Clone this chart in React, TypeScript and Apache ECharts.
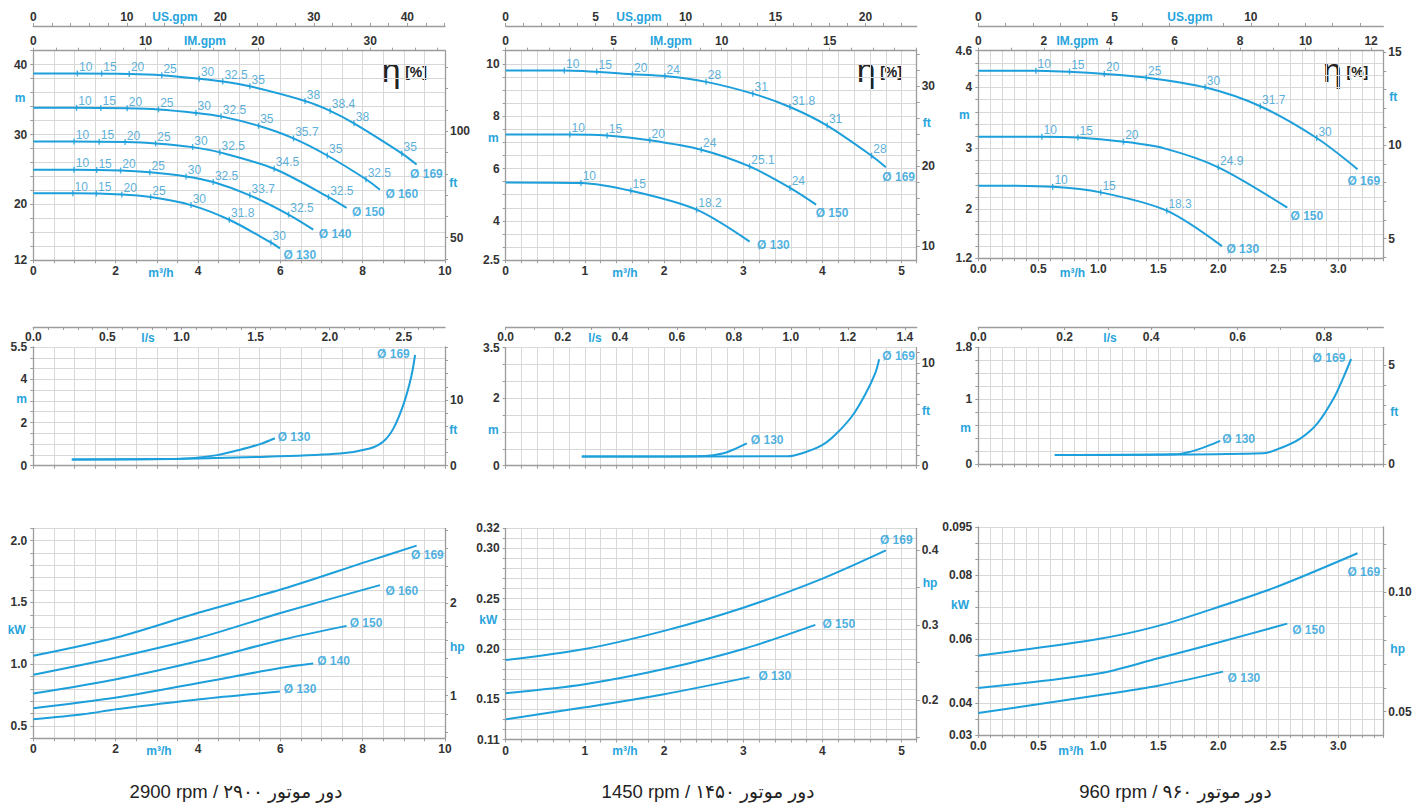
import React, { useEffect, useRef } from "react";
import * as echarts from "echarts";

// ---------------- unit factors ----------------
const M3H_TO_USGPM = 4.40287;
const M3H_TO_IMGPM = 3.66615;
const M3H_TO_LS = 1 / 3.6;
const M_TO_FT = 3.28084;
const KW_TO_HP = 1 / 0.7457;

// ---------------- tick labels ----------------
const X_LABELS_2900 = [0, 2, 4, 6, 8, 10];
const X_LABELS_1450 = [0, 1, 2, 3, 4, 5];
const X_LABELS_960 = [0, 0.5, 1, 1.5, 2, 2.5, 3];
const US_LABELS_2900 = [0, 10, 20, 30, 40];
const IM_LABELS_2900 = [0, 10, 20, 30];
const US_LABELS_1450 = [0, 5, 10, 15, 20];
const IM_LABELS_1450 = [0, 5, 10, 15];
const US_LABELS_960 = [0, 5, 10];
const IM_LABELS_960 = [0, 2, 4, 6, 8, 10, 12];
const H_LABELS_2900 = [12, 20, 30, 40];
const H_LABELS_1450 = [2.5, 4, 6, 8, 10];
const H_LABELS_960 = [1.2, 2, 3, 4, 4.6];
const FT_LABELS_2900 = [50, 100];
const FT_LABELS_1450 = [10, 20, 30];
const FT_LABELS_960 = [5, 10, 15];
const LS_LABELS_2900 = [0, 0.5, 1, 1.5, 2, 2.5];
const LS_LABELS_1450 = [0, 0.2, 0.4, 0.6, 0.8, 1, 1.2, 1.4];
const LS_LABELS_960 = [0, 0.2, 0.4, 0.6, 0.8];
const NPSH_LABELS_2900 = [0, 2, 4, 5.5];
const NPSH_LABELS_1450 = [0, 2, 3.5];
const NPSH_LABELS_960 = [0, 1, 1.8];
const NPSH_FT_2900 = [0, 10];
const NPSH_FT_1450 = [0, 10];
const NPSH_FT_960 = [0, 5];
const P_LABELS_2900 = [0.5, 1, 1.5, 2];
const P_LABELS_1450 = [0.11, 0.15, 0.2, 0.25, 0.3, 0.32];
const P_LABELS_960 = [0.03, 0.04, 0.06, 0.08, 0.095];
const HP_LABELS_2900 = [1, 2];
const HP_LABELS_1450 = [0.2, 0.3, 0.4];
const HP_LABELS_960 = [0.05, 0.1];

// ---------------- head curves [Q m³/h, H m] ----------------
const H2900_169 = [[0, 38.75], [1.07, 38.75], [2.33, 38.68], [3.12, 38.5], [4.03, 38.0], [4.6, 37.6], [5.26, 36.9], [6.6, 34.8], [7.21, 33.4], [7.79, 31.6], [8.95, 27.3], [9.31, 25.7]];
const H2900_160 = [[0, 33.85], [1.05, 33.82], [2.28, 33.75], [3.04, 33.6], [3.95, 33.1], [4.56, 32.6], [5.47, 31.25], [6.32, 29.45], [7.14, 27.0], [8.08, 23.6], [8.42, 22.1]];
const H2900_150 = [[0, 29.0], [0.99, 29.0], [2.23, 28.92], [2.97, 28.73], [3.87, 28.2], [4.53, 27.45], [5.85, 25.1], [7.17, 21.05], [7.61, 19.5]];
const H2900_140 = [[0, 24.95], [0.99, 24.95], [2.12, 24.85], [2.83, 24.6], [3.71, 24.0], [4.37, 23.2], [5.26, 21.3], [6.2, 18.55], [6.8, 16.4]];
const H2900_130 = [[0, 21.6], [0.96, 21.6], [2.15, 21.43], [2.85, 21.05], [3.83, 19.9], [4.76, 17.8], [5.77, 14.55], [5.99, 13.7]];
const H1450_169 = [[0, 9.745], [0.74, 9.745], [1.6, 9.6], [2.01, 9.53], [2.53, 9.31], [3.12, 8.86], [3.59, 8.35], [4.06, 7.64], [4.62, 6.49], [4.8, 6.05]];
const H1450_150 = [[0, 7.3], [0.81, 7.3], [1.28, 7.26], [1.82, 7.08], [2.47, 6.72], [3.08, 6.08], [3.59, 5.26], [3.92, 4.62]];
const H1450_130 = [[0, 5.47], [0.95, 5.45], [1.58, 5.15], [2.41, 4.43], [3.08, 3.21]];
const H960_169 = [[0, 4.27], [0.48, 4.27], [1.05, 4.22], [1.4, 4.16], [1.89, 4.0], [2.35, 3.69], [2.82, 3.17], [3.16, 2.66]];
const H960_150 = [[0, 3.19], [0.53, 3.19], [0.83, 3.18], [1.21, 3.11], [1.55, 3.0], [2.0, 2.69], [2.575, 2.03]];
const H960_130 = [[0, 2.39], [0.62, 2.37], [1.02, 2.28], [1.57, 1.98], [2.03, 1.4]];

// ---------------- efficiency marks [Q, H, η %] ----------------
const E2900_169 = [[1.07, 38.75, 10], [1.66, 38.72, 15], [2.33, 38.68, 20], [3.12, 38.5, 25], [4.03, 38.0, 30], [4.6, 37.6, 32.5], [5.26, 36.9, 35], [6.6, 34.8, 38], [7.21, 33.4, 38.4], [7.79, 31.6, 38], [8.95, 27.3, 35]];
const E2900_160 = [[1.05, 33.82, 10], [1.64, 33.8, 15], [2.28, 33.75, 20], [3.04, 33.6, 25], [3.95, 33.1, 30], [4.56, 32.6, 32.5], [5.47, 31.25, 35], [6.32, 29.45, 35.7], [7.14, 27.0, 35], [8.08, 23.6, 32.5]];
const E2900_150 = [[0.99, 29.0, 10], [1.6, 28.97, 15], [2.23, 28.92, 20], [2.97, 28.73, 25], [3.87, 28.2, 30], [4.53, 27.45, 32.5], [5.85, 25.1, 34.5], [7.17, 21.05, 32.5]];
const E2900_140 = [[0.99, 24.95, 10], [1.54, 24.92, 15], [2.12, 24.85, 20], [2.83, 24.6, 25], [3.71, 24.0, 30], [4.37, 23.2, 32.5], [5.26, 21.3, 33.7], [6.2, 18.55, 32.5]];
const E2900_130 = [[0.96, 21.6, 10], [1.53, 21.55, 15], [2.15, 21.43, 20], [2.85, 21.05, 25], [3.83, 19.9, 30], [4.76, 17.8, 31.8], [5.77, 14.55, 30]];
const E1450_169 = [[0.74, 9.745, 10], [1.15, 9.71, 15], [1.6, 9.6, 20], [2.01, 9.53, 24], [2.53, 9.31, 28], [3.12, 8.86, 31], [3.59, 8.35, 31.8], [4.06, 7.64, 31], [4.62, 6.49, 28]];
const E1450_150 = [[0.81, 7.3, 10], [1.28, 7.26, 15], [1.82, 7.08, 20], [2.47, 6.72, 24], [3.08, 6.08, 25.1], [3.59, 5.26, 24]];
const E1450_130 = [[0.95, 5.45, 10], [1.58, 5.15, 15], [2.41, 4.43, 18.2]];
const E960_169 = [[0.48, 4.27, 10], [0.76, 4.26, 15], [1.05, 4.22, 20], [1.4, 4.16, 25], [1.89, 4.0, 30], [2.35, 3.69, 31.7], [2.82, 3.17, 30]];
const E960_150 = [[0.53, 3.19, 10], [0.83, 3.18, 15], [1.21, 3.11, 20], [2.0, 2.69, 24.9]];
const E960_130 = [[0.62, 2.37, 10], [1.02, 2.28, 15], [1.57, 1.98, 18.3]];

// ---------------- NPSH curves [q l/s, m] ----------------
const N2900_169 = [[0.26, 0.29], [1.0, 0.32], [1.575, 0.42], [2.07, 0.57], [2.27, 0.8], [2.36, 1.11], [2.43, 1.73], [2.5, 2.89], [2.55, 4.12], [2.576, 5.13]];
const N2900_130 = [[0.26, 0.29], [1.0, 0.32], [1.24, 0.49], [1.39, 0.73], [1.53, 1.0], [1.63, 1.27]];
const N1450_169 = [[0.267, 0.27], [0.99, 0.28], [1.04, 0.37], [1.11, 0.61], [1.155, 0.91], [1.214, 1.46], [1.26, 2.1], [1.296, 2.74], [1.31, 3.16]];
const N1450_130 = [[0.267, 0.27], [0.7, 0.29], [0.76, 0.36], [0.805, 0.5], [0.846, 0.66]];
const N960_169 = [[0.177, 0.144], [0.66, 0.17], [0.7, 0.25], [0.746, 0.4], [0.785, 0.63], [0.823, 1.02], [0.846, 1.35], [0.863, 1.62]];
const N960_130 = [[0.177, 0.144], [0.454, 0.154], [0.492, 0.195], [0.53, 0.28], [0.56, 0.36]];

// ---------------- power curves [Q m³/h, kW] ----------------
const P2900_169 = [[0, 1.068], [2.02, 1.216], [4.05, 1.42], [6.07, 1.61], [8.1, 1.83], [9.31, 1.96]];
const P2900_160 = [[0, 0.914], [2.02, 1.054], [4.05, 1.216], [6.07, 1.42], [8.42, 1.64]];
const P2900_150 = [[0, 0.762], [2.02, 0.878], [4.05, 1.027], [6.07, 1.2], [7.61, 1.31]];
const P2900_140 = [[0, 0.643], [2.02, 0.73], [4.05, 0.85], [6.07, 0.973], [6.8, 1.005]];
const P2900_130 = [[0, 0.554], [1.21, 0.595], [2.02, 0.635], [4.05, 0.716], [5.99, 0.778]];
const P1450_169 = [[0, 0.189], [1, 0.2], [2, 0.218], [3, 0.241], [4, 0.27], [4.8, 0.298]];
const P1450_150 = [[0, 0.156], [1, 0.165], [2, 0.18], [3, 0.2], [3.91, 0.224]];
const P1450_130 = [[0, 0.13], [1, 0.142], [2, 0.155], [3.08, 0.172]];
const P960_169 = [[0, 0.0548], [1.0, 0.06], [1.5, 0.0641], [2.0, 0.07], [2.5, 0.0765], [3.16, 0.0868]];
const P960_150 = [[0, 0.0447], [1.0, 0.0492], [1.5, 0.054], [2.0, 0.0589], [2.575, 0.0648]];
const P960_130 = [[0, 0.0369], [1.0, 0.0424], [1.5, 0.0454], [2.04, 0.0498]];

const CAPTIONS = ["2900 rpm / دور موتور ۲۹۰۰", "1450 rpm / دور موتور ۱۴۵۰", "960 rpm / دور موتور ۹۶۰"];

// ---------------- styles ----------------
const FONT = "'Liberation Sans', Arial, 'DejaVu Sans', sans-serif";
const BLUE = "#1c9fdb";
const NAME_BLUE = "#1d9dd8";
const EFF_BLUE = "#2f9bd0";
const TITLE_BLUE = "#27a4dc";
const AXIS_COL = "#9c9c9c";
const GRID_COL = "#d8d8d8";
const LABEL = { color: "#333", fontSize: 12, fontWeight: "bold", fontFamily: FONT };

const range = (a: number, b: number, s: number) => {
  const out: number[] = [];
  for (let i = 0; a + i * s <= b + 1e-9; i++) out.push(+(a + i * s).toFixed(6));
  return out;
};
const fmt = (dec: number | null) => (v: number) =>
  dec == null ? String(+Number(v).toFixed(6)) : Number(v).toFixed(dec);

type Curve = { name: string; pts: number[][]; eff?: number[][]; off: [number, number] };
type Panel = {
  box: [number, number, number, number];
  xMax: number; xStep: number; xLabels: number[] | null; xDec: number | null;
  yMin: number; yMax: number; yStep: number; yLabels: number[]; yDec: number | null;
  rFactor: number; rLabels: number[]; rTicks: number[]; rDec: number | null;
  top: null | { kind: "gpm"; us: number[]; usT: number[]; im: number[]; imT: number[] } | { kind: "ls"; ls: number[]; lsT: number[] };
  curves: Curve[];
};

const PANELS: Panel[] = [
  // ---- row 1 : H-Q ----
  {
    box: [33.3, 50.7, 445, 260.3], xMax: 10, xStep: 0.5, xLabels: X_LABELS_2900, xDec: null,
    yMin: 12, yMax: 42, yStep: 2, yLabels: H_LABELS_2900, yDec: null,
    rFactor: M_TO_FT, rLabels: FT_LABELS_2900, rTicks: range(40, 130, 10), rDec: null,
    top: { kind: "gpm", us: US_LABELS_2900, usT: range(0, 44, 2), im: IM_LABELS_2900, imT: range(0, 36, 2) },
    curves: [
      { name: "Ø 169", pts: H2900_169, eff: E2900_169, off: [-7, 9] },
      { name: "Ø 160", pts: H2900_160, eff: E2900_160, off: [5, 4] },
      { name: "Ø 150", pts: H2900_150, eff: E2900_150, off: [5, 4.5] },
      { name: "Ø 140", pts: H2900_140, eff: E2900_140, off: [5, 4] },
      { name: "Ø 130", pts: H2900_130, eff: E2900_130, off: [3, 7] },
    ],
  },
  {
    box: [505.7, 50.7, 916.7, 260.2], xMax: 5.19, xStep: 0.2, xLabels: X_LABELS_1450, xDec: null,
    yMin: 2.5, yMax: 10.5, yStep: 0.5, yLabels: H_LABELS_1450, yDec: null,
    rFactor: M_TO_FT, rLabels: FT_LABELS_1450, rTicks: range(10, 34, 2), rDec: null,
    top: { kind: "gpm", us: US_LABELS_1450, usT: range(0, 22, 1), im: IM_LABELS_1450, imT: range(0, 19, 1) },
    curves: [
      { name: "Ø 169", pts: H1450_169, eff: E1450_169, off: [-4, 9.6] },
      { name: "Ø 150", pts: H1450_150, eff: E1450_150, off: [-1, 8.3] },
      { name: "Ø 130", pts: H1450_130, eff: E1450_130, off: [7, 3.3] },
    ],
  },
  {
    box: [978.3, 50.7, 1383.3, 258.3], xMax: 3.375, xStep: 0.1, xLabels: X_LABELS_960, xDec: 1,
    yMin: 1.2, yMax: 4.6, yStep: 0.2, yLabels: H_LABELS_960, yDec: null,
    rFactor: M_TO_FT, rLabels: FT_LABELS_960, rTicks: range(4, 15, 1), rDec: null,
    top: { kind: "gpm", us: US_LABELS_960, usT: range(0, 14, 1), im: IM_LABELS_960, imT: range(0, 12, 1) },
    curves: [
      { name: "Ø 169", pts: H960_169, eff: E960_169, off: [-10.6, 12] },
      { name: "Ø 150", pts: H960_150, eff: E960_150, off: [2.7, 8.7] },
      { name: "Ø 130", pts: H960_130, eff: E960_130, off: [4, 3.3] },
    ],
  },
  // ---- row 2 : NPSH ----
  {
    box: [33.3, 347, 445, 465.7], xMax: 10, xStep: 0.5, xLabels: null, xDec: null,
    yMin: 0, yMax: 5.5, yStep: 0.5, yLabels: NPSH_LABELS_2900, yDec: null,
    rFactor: M_TO_FT, rLabels: NPSH_FT_2900, rTicks: range(0, 18, 2), rDec: null,
    top: { kind: "ls", ls: LS_LABELS_2900, lsT: range(0, 2.7, 0.1) },
    curves: [
      { name: "Ø 169", pts: N2900_169, off: [-38.5, -0.7] },
      { name: "Ø 130", pts: N2900_130, off: [2.3, -1] },
    ],
  },
  {
    box: [505.7, 347.7, 916.7, 465.7], xMax: 5.19, xStep: 0.2, xLabels: null, xDec: null,
    yMin: 0, yMax: 3.5, yStep: 0.5, yLabels: NPSH_LABELS_1450, yDec: null,
    rFactor: M_TO_FT, rLabels: NPSH_FT_1450, rTicks: range(0, 11, 1), rDec: null,
    top: { kind: "ls", ls: LS_LABELS_1450, lsT: range(0, 1.4, 0.1) },
    curves: [
      { name: "Ø 169", pts: N1450_169, off: [2.6, -3.3] },
      { name: "Ø 130", pts: N1450_130, off: [3.4, -3.3] },
    ],
  },
  {
    box: [978.3, 347.3, 1383.3, 464.3], xMax: 3.375, xStep: 0.1, xLabels: null, xDec: null,
    yMin: 0, yMax: 1.8, yStep: 0.2, yLabels: NPSH_LABELS_960, yDec: null,
    rFactor: M_TO_FT, rLabels: NPSH_FT_960, rTicks: range(0, 5.5, 1), rDec: null,
    top: { kind: "ls", ls: LS_LABELS_960, lsT: range(0, 0.9, 0.1) },
    curves: [
      { name: "Ø 169", pts: N960_169, off: [-39, -1] },
      { name: "Ø 130", pts: N960_130, off: [1.6, -2.4] },
    ],
  },
  // ---- row 3 : power ----
  {
    box: [33.3, 528.3, 445, 738.3], xMax: 10, xStep: 0.5, xLabels: X_LABELS_2900, xDec: null,
    yMin: 0.4, yMax: 2.1, yStep: 0.1, yLabels: P_LABELS_2900, yDec: 1,
    rFactor: KW_TO_HP, rLabels: HP_LABELS_2900, rTicks: range(0.6, 2.8, 0.2), rDec: null,
    top: null,
    curves: [
      { name: "Ø 169", pts: P2900_169, off: [-6, 9.3] },
      { name: "Ø 160", pts: P2900_160, off: [5, 5.7] },
      { name: "Ø 150", pts: P2900_150, off: [2.6, -2.4] },
      { name: "Ø 140", pts: P2900_140, off: [3.4, -2.6] },
      { name: "Ø 130", pts: P2900_130, off: [3.3, -2.3] },
    ],
  },
  {
    box: [505.7, 528.3, 916.7, 739.5], xMax: 5.19, xStep: 0.2, xLabels: X_LABELS_1450, xDec: null,
    yMin: 0.11, yMax: 0.32, yStep: 0.01, yLabels: P_LABELS_1450, yDec: 2,
    rFactor: KW_TO_HP, rLabels: HP_LABELS_1450, rTicks: range(0.15, 0.42, 0.05), rDec: null,
    top: null,
    curves: [
      { name: "Ø 169", pts: P1450_169, off: [-6.4, -10] },
      { name: "Ø 150", pts: P1450_150, off: [6.6, -1] },
      { name: "Ø 130", pts: P1450_130, off: [8.3, -1.3] },
    ],
  },
  {
    box: [978.3, 527, 1383.3, 735], xMax: 3.375, xStep: 0.1, xLabels: X_LABELS_960, xDec: 1,
    yMin: 0.03, yMax: 0.095, yStep: 0.005, yLabels: P_LABELS_960, yDec: null,
    rFactor: KW_TO_HP, rLabels: HP_LABELS_960, rTicks: range(0.04, 0.125, 0.01), rDec: 2,
    top: null,
    curves: [
      { name: "Ø 169", pts: P960_169, off: [-10.6, 18.3] },
      { name: "Ø 150", pts: P960_150, off: [4.4, 6] },
      { name: "Ø 130", pts: P960_130, off: [4, 6] },
    ],
  },
];

// axis titles: [text, centerX, centerY]
const AXIS_TITLES: [string, number, number][] = [
  ["US.gpm", 175, 17.3], ["IM.gpm", 205, 40.7], ["m", 20, 98], ["ft", 453.3, 182.7], ["m³/h", 161, 272.7],
  ["US.gpm", 639, 17.3], ["IM.gpm", 671, 40.7], ["m", 493.3, 138.3], ["ft", 926.7, 123.3], ["m³/h", 625, 272.7],
  ["US.gpm", 1190, 17.3], ["IM.gpm", 1077.5, 40.7], ["m", 964.3, 115], ["ft", 1393.3, 97.3], ["m³/h", 1072.5, 272.7],
  ["l/s", 148, 338], ["m", 21.7, 399.3], ["ft", 453.3, 430],
  ["l/s", 595, 338.3], ["m", 493.3, 430], ["ft", 926, 410.7],
  ["l/s", 1110, 338.3], ["m", 965.7, 428.3], ["ft", 1394.3, 412.3],
  ["kW", 16.7, 630], ["hp", 457.3, 646.7], ["m³/h", 159, 751],
  ["kW", 488.3, 620], ["hp", 930, 583.3], ["m³/h", 625, 751],
  ["kW", 960, 605], ["hp", 1397.7, 649.3], ["m³/h", 1071, 751],
];
const ETA_POS: [number, number][] = [[381.7, 70], [856.7, 70], [1323, 70]];
const CAPTION_POS: [number, number][] = [[236, 791.7], [708, 791.7], [1175.5, 791.7]];

function buildOption() {
  const grid: any[] = [];
  const xAxis: any[] = [];
  const yAxis: any[] = [];
  const series: any[] = [];
  const graphic: any[] = [];
  const axisLine = { show: true, onZero: false, lineStyle: { color: AXIS_COL, width: 1.3 } };

  PANELS.forEach((p) => {
    const gi = grid.length;
    const [l, t, r, b] = p.box;
    grid.push({ left: l, top: t, width: r - l, height: b - t, containLabel: false, outerBoundsMode: "none" });

    const xi = xAxis.length;
    xAxis.push({
      type: "value", gridIndex: gi, position: "bottom", min: 0, max: p.xMax, interval: p.xStep,
      axisLine, axisTick: { show: true, length: 3, lineStyle: { color: AXIS_COL } },
      axisLabel: p.xLabels
        ? { ...LABEL, customValues: p.xLabels, formatter: fmt(p.xDec), margin: 5 }
        : { show: false },
      splitLine: { show: true, lineStyle: { color: GRID_COL, width: 1 } },
    });
    let seriesX = xi;
    if (p.top && p.top.kind === "gpm") {
      xAxis.push({
        type: "value", gridIndex: gi, position: "top", offset: t - 26, min: 0, max: p.xMax * M3H_TO_USGPM,
        axisLine, axisTick: { show: true, length: 3, customValues: p.top.usT, lineStyle: { color: AXIS_COL } },
        axisLabel: { ...LABEL, customValues: p.top.us, margin: 3 }, splitLine: { show: false },
      });
      xAxis.push({
        type: "value", gridIndex: gi, position: "top", offset: 0, min: 0, max: p.xMax * M3H_TO_IMGPM,
        axisLine, axisTick: { show: true, length: 3, customValues: p.top.imT, lineStyle: { color: AXIS_COL } },
        axisLabel: { ...LABEL, customValues: p.top.im, margin: 4 }, splitLine: { show: false },
      });
    } else if (p.top && p.top.kind === "ls") {
      seriesX = xAxis.length;
      xAxis.push({
        type: "value", gridIndex: gi, position: "top", offset: t - 327, min: 0, max: p.xMax * M3H_TO_LS,
        axisLine, axisTick: { show: true, inside: true, length: 3, customValues: p.top.lsT, lineStyle: { color: AXIS_COL } },
        axisLabel: { ...LABEL, inside: true, customValues: p.top.ls, formatter: fmt(1), margin: 4 },
        splitLine: { show: false },
      });
    }

    const yi = yAxis.length;
    yAxis.push({
      type: "value", gridIndex: gi, position: "left", min: p.yMin, max: p.yMax, interval: p.yStep,
      axisLine, axisTick: { show: true, length: 3, lineStyle: { color: AXIS_COL } },
      axisLabel: { ...LABEL, customValues: p.yLabels, formatter: fmt(p.yDec), margin: 6 },
      splitLine: { show: true, lineStyle: { color: GRID_COL, width: 1 } },
    });
    yAxis.push({
      type: "value", gridIndex: gi, position: "right", min: p.yMin * p.rFactor, max: p.yMax * p.rFactor,
      axisLine, axisTick: { show: true, length: 3, customValues: p.rTicks, lineStyle: { color: AXIS_COL } },
      axisLabel: { ...LABEL, customValues: p.rLabels, formatter: fmt(p.rDec), margin: 5 },
      splitLine: { show: false },
    });

    p.curves.forEach((c) => {
      series.push({
        type: "line", xAxisIndex: seriesX, yAxisIndex: yi, data: c.pts, showSymbol: false,
        smooth: 0.3, silent: true,
        lineStyle: { color: BLUE, width: 2 },
      });
      if (c.eff) {
        series.push({
          type: "scatter", xAxisIndex: seriesX, yAxisIndex: yi, data: c.eff, silent: true,
          symbol: "rect", symbolSize: [1.4, 6], itemStyle: { color: BLUE },
          label: {
            show: true, position: "right", distance: 0, offset: [1, -6.5],
            formatter: (q: any) => String(q.value[2]),
            color: EFF_BLUE, fontSize: 12, fontFamily: FONT,
          },
        });
      }
      const last = c.pts[c.pts.length - 1];
      series.push({
        type: "scatter", xAxisIndex: seriesX, yAxisIndex: yi, silent: true,
        data: [{ value: last, name: c.name }],
        symbolSize: 1, itemStyle: { color: "rgba(0,0,0,0)" },
        label: {
          show: true, position: "right", distance: 0, offset: c.off, formatter: "{b}",
          color: NAME_BLUE, fontSize: 12, fontWeight: "bold", fontFamily: FONT,
        },
      });
    });
  });

  AXIS_TITLES.forEach(([text, x, y]) => {
    graphic.push({
      type: "text", x, y, silent: true,
      style: { text, fill: TITLE_BLUE, fontSize: 12, fontWeight: "bold", fontFamily: FONT, align: "center", verticalAlign: "middle" },
    });
  });
  ETA_POS.forEach(([x, y]) => {
    graphic.push({
      type: "text", x, y, silent: true,
      style: { text: "η", fill: "#222", fontSize: 34, fontFamily: FONT, align: "left", verticalAlign: "middle" },
    });
    graphic.push({
      type: "text", x: x + 23.5, y: y + 1.7, silent: true,
      style: { text: "[%]", fill: "#222", fontSize: 14, fontWeight: "bold", fontFamily: FONT, align: "left", verticalAlign: "middle" },
    });
  });
  CAPTION_POS.forEach(([x, y], i) => {
    graphic.push({
      type: "text", x, y, silent: true,
      style: { text: CAPTIONS[i], fill: "#222", fontSize: 18.5, fontFamily: "'Liberation Sans', 'DejaVu Sans', sans-serif", align: "center", verticalAlign: "middle" },
    });
  });

  return {
    animation: false,
    backgroundColor: "#ffffff",
    textStyle: { fontFamily: FONT },
    grid, xAxis, yAxis, series, graphic,
  };
}

export default function App() {
  const ref = useRef<HTMLDivElement>(null);
  useEffect(() => {
    if (!ref.current) return;
    const chart = echarts.init(ref.current, undefined, { renderer: "svg" });
    chart.setOption(buildOption() as any);
    return () => chart.dispose();
  }, []);
  return (
    <div
      ref={ref}
      style={{ position: "absolute", left: 0, top: 0, width: 1425, height: 803, background: "#fff" }}
    />
  );
}
